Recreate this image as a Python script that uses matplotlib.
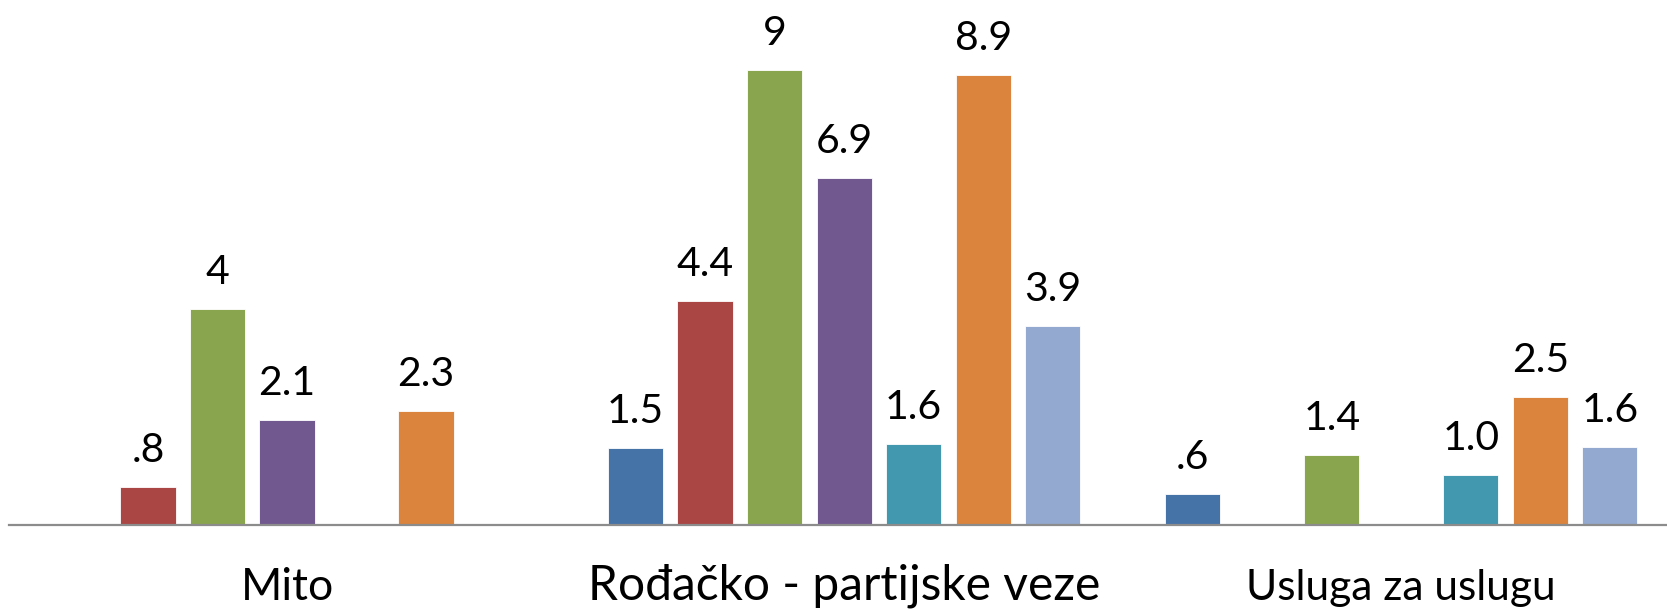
import numpy as np
import matplotlib
matplotlib.use('Agg')
import matplotlib.pyplot as plt

plt.rcParams['font.family'] = ['Lato', 'DejaVu Sans']

categories = ['Mito', 'Rođačko - partijske veze', 'Usluga za uslugu']
catSizes = [32, 34.5, 30.5]

nan = np.nan
# one list per series, values per category (nan = no bar)
s1 = [nan, 1.53, 0.61]
s2 = [0.75, 4.44, nan]
s3 = [4.27, 9.0, 1.39]
s4 = [2.07, 6.87, nan]
s5 = [nan, 1.6, 0.99]
s6 = [2.26, 8.91, 2.54]
s7 = [nan, 3.93, 1.55]
series = [s1, s2, s3, s4, s5, s6, s7]

# labels as printed on the chart
l1 = ['', '1.5', '.6']
l2 = ['.8', '4.4', '']
l3 = ['4', '9', '1.4']
l4 = ['2.1', '6.9', '']
l5 = ['', '1.6', '1.0']
l6 = ['2.3', '8.9', '2.5']
l7 = ['', '3.9', '1.6']
labels = [l1, l2, l3, l4, l5, l6, l7]

colors = ['#4572A7', '#AA4643', '#89A54E', '#71588F', '#4198AF', '#DB843D', '#93A9CF']

fig = plt.figure(figsize=(16.67, 6.10), dpi=100)
ax = fig.add_axes([0.0051, 0.1394, 0.9949, 0.8606])

x = np.arange(len(categories))
step = 0.1248
width = 0.0992
for i, vals in enumerate(series):
  xs = x + (i - 3) * step
  ax.bar(xs, vals, width, color=colors[i], edgecolor='white', linewidth=0.6)
  for j, v in enumerate(vals):
    if np.isnan(v):
      continue
    ax.annotate(labels[i][j], xy=(xs[j], v), xytext=(0, 18), textcoords='offset points',
        ha='center', va='baseline', fontsize=29.5, color='black')

for j, cat in enumerate(categories):
  ax.annotate(cat, xy=(x[j], 0), xycoords=('data', 'axes fraction'), xytext=(0, -54),
      textcoords='offset points', ha='center', va='baseline', fontsize=catSizes[j])

ax.set_xlim(-0.5, 2.477)
ax.set_ylim(0, 10.39)
for side in ['top', 'right', 'left']:
  ax.spines[side].set_visible(False)
ax.spines['bottom'].set_color('#8c8c8c')
ax.spines['bottom'].set_linewidth(1.6)
ax.set_xticks([])
ax.set_yticks([])

fig.savefig('out.png', dpi=100)
